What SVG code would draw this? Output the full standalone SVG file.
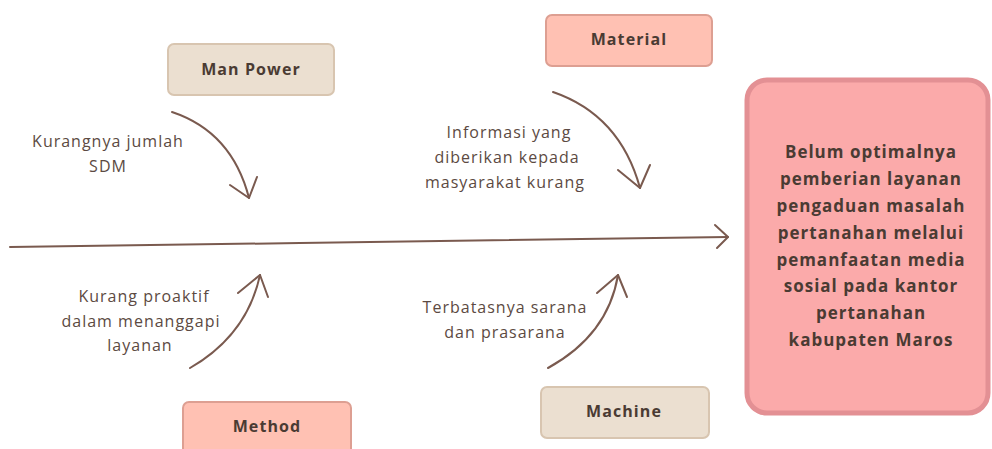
<svg xmlns="http://www.w3.org/2000/svg" width="992" height="449" viewBox="0 0 992 449">
<style>
.cat{font-family:"Open Sans","Liberation Sans",sans-serif;font-weight:700;font-size:16px;fill:#4a3b33;text-anchor:middle;letter-spacing:1.1px}
.lbl{font-family:"Open Sans","Liberation Sans",sans-serif;font-size:16px;fill:#5c4a42;text-anchor:middle;letter-spacing:1px}
.eff{font-family:"Open Sans","Liberation Sans",sans-serif;font-weight:700;font-size:17px;fill:#4a3b33;text-anchor:middle;letter-spacing:1px}
.beige{fill:#ebdfd0;stroke:#d8c5b0;stroke-width:2}
.salmon{fill:#ffc1b3;stroke:#dd9f92;stroke-width:2}
.arr{fill:none;stroke:#7a5a4f;stroke-width:2;stroke-linecap:round;stroke-linejoin:round}
</style>
<rect width="992" height="449" fill="#ffffff"/>
<g id="connectors">
<path class="arr" d="M10,247 L300,243 L728,237"/>
<path class="arr" d="M715,225 L728,237 L717,248"/>
<path class="arr" d="M172,112 Q232,132 249,198"/>
<path class="arr" d="M230,185 L249,198 L257,177"/>
<path class="arr" d="M553,92 Q620,115 640,188"/>
<path class="arr" d="M618,170 L640,188 L650,165"/>
<path class="arr" d="M190,368 Q247,335 260,275"/>
<path class="arr" d="M238,293 L260,275 L268,297"/>
<path class="arr" d="M548,368 Q608,335 618,275"/>
<path class="arr" d="M597,293 L618,275 L627,297"/>
</g>
<g id="manpower">
<rect class="beige" x="168" y="44" width="166" height="51" rx="6"/>
<text class="cat" x="251" y="75">Man Power</text>
</g>
<g id="material">
<rect class="salmon" x="546" y="15" width="166" height="51" rx="6"/>
<text class="cat" x="629" y="45">Material</text>
</g>
<g id="method">
<rect class="salmon" x="183" y="402" width="168" height="60" rx="6"/>
<text class="cat" x="267" y="432">Method</text>
</g>
<g id="machine">
<rect class="beige" x="541" y="387" width="168" height="51" rx="6"/>
<text class="cat" x="624" y="417">Machine</text>
</g>
<g id="effect">
<rect x="747" y="80" width="241" height="333" rx="20" fill="#fbaaaa" stroke="#e39094" stroke-width="5"/>
<text class="eff" x="871" y="158">Belum optimalnya</text>
<text class="eff" x="871" y="185">pemberian layanan</text>
<text class="eff" x="871" y="212">pengaduan masalah</text>
<text class="eff" x="871" y="239">pertanahan melalui</text>
<text class="eff" x="871" y="266">pemanfaatan media</text>
<text class="eff" x="871" y="292">sosial pada kantor</text>
<text class="eff" x="871" y="319">pertanahan</text>
<text class="eff" x="871" y="346">kabupaten Maros</text>
</g>
<g id="label-manpower">
<text class="lbl" x="108" y="147">Kurangnya jumlah</text>
<text class="lbl" x="108" y="172">SDM</text>
</g>
<g id="label-material">
<text class="lbl" x="509" y="138">Informasi yang</text>
<text class="lbl" x="507" y="163">diberikan kepada</text>
<text class="lbl" x="505" y="188">masyarakat kurang</text>
</g>
<g id="label-method">
<text class="lbl" x="144" y="302">Kurang proaktif</text>
<text class="lbl" x="141" y="327">dalam menanggapi</text>
<text class="lbl" x="140" y="351">layanan</text>
</g>
<g id="label-machine">
<text class="lbl" x="505" y="313">Terbatasnya sarana</text>
<text class="lbl" x="505" y="338">dan prasarana</text>
</g>
</svg>
